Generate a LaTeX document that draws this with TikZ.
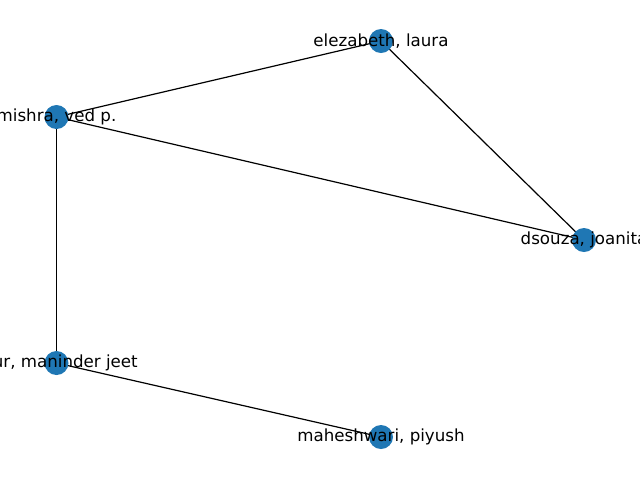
\documentclass[tikz,border=0pt]{standalone}
\usepackage{fontspec}
\setmainfont{DejaVu Sans}
\definecolor{nxblue}{HTML}{1F77B4}
\tikzset{
  vertex/.style={circle,fill=nxblue,draw=none,minimum size=18pt,inner sep=0pt},
  lbl/.style={font=\fontsize{12.5}{15}\selectfont,inner sep=0pt,text=black},
  edge/.style={draw=black,line width=0.9pt}
}
\begin{document}
\begin{tikzpicture}[x=0.75pt,y=-0.75pt]
\useasboundingbox (0,0) rectangle (640,480);
\clip (0,0) rectangle (640,480);
\coordinate (el) at (381,41);
\coordinate (mi) at (56.5,117);
\coordinate (ds) at (584,240);
\coordinate (ka) at (56.5,363);
\coordinate (ma) at (381,437);
\draw[edge] (mi) -- (el);
\draw[edge] (mi) -- (ds);
\draw[edge] (el) -- (ds);
\draw[edge] (mi) -- (ka);
\draw[edge] (ka) -- (ma);
\node[vertex] (nel) at (el) {};
\node[vertex] (nmi) at (mi) {};
\node[vertex] (nds) at (ds) {};
\node[vertex] (nka) at (ka) {};
\node[vertex] (nma) at (ma) {};
\node[lbl] (tel) at (el) {elezabeth, laura};
\node[lbl] (tmi) at (mi) {mishra, ved p.};
\node[lbl] (tds) at (ds) {dsouza, joanita};
\node[lbl,anchor=east] (tka) at (138,363) {ur, maninder jeet};
\node[lbl] (tma) at (ma) {maheshwari, piyush};
\end{tikzpicture}
\end{document}
